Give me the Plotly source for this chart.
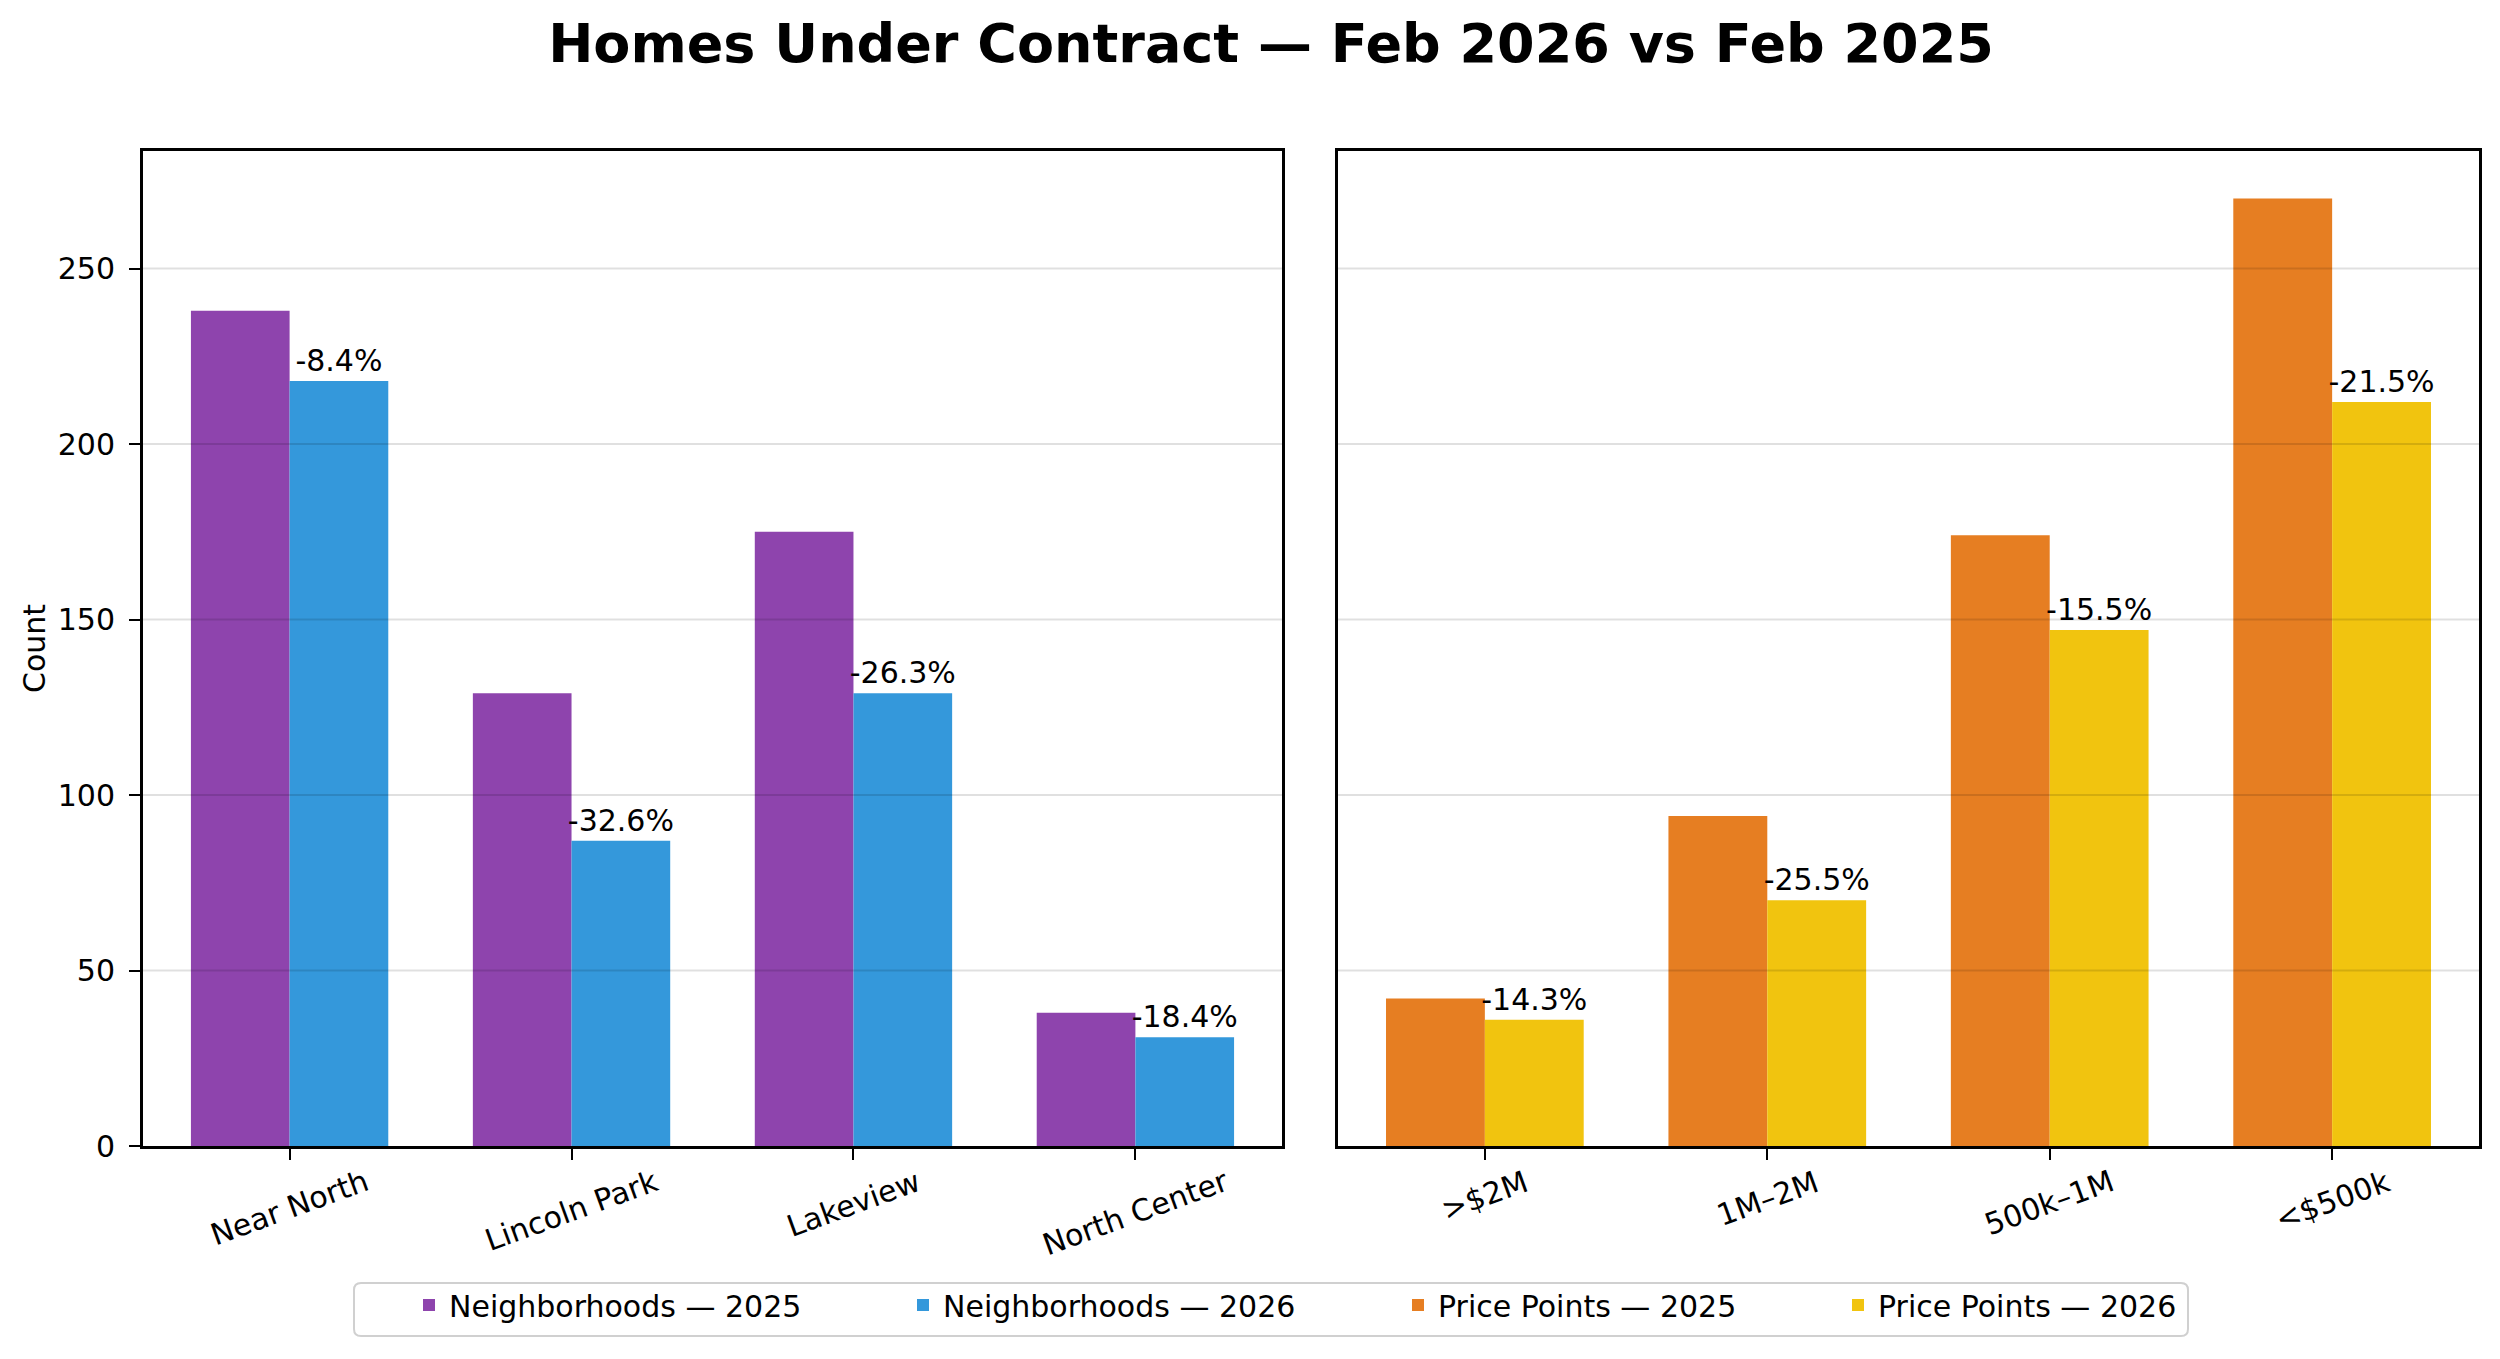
import plotly.graph_objects as go

# ---- data ----
neighborhoods = ["Near North", "Lincoln Park", "Lakeview", "North Center"]
nb_2025 = [238, 129, 175, 38]
nb_2026 = [218, 87, 129, 31]

price_points = [">$2M", "1M–2M", "500k–1M", "<$500k"]
pp_2025 = [42, 94, 174, 270]
pp_2026 = [36, 70, 147, 212]

y_ticks = [0, 50, 100, 150, 200, 250]

series_names = ["Neighborhoods — 2025", "Neighborhoods — 2026",
                "Price Points — 2025", "Price Points — 2026"]

COL_NB25 = "#8e44ad"
COL_NB26 = "#3498db"
COL_PP25 = "#e67e22"
COL_PP26 = "#f1c40f"

FONT = "DejaVu Sans"
FS = 30
W, H = 2500, 1359

# approximate DejaVu Sans advance widths (per 1000 em) for label sizing
_ADV = {" ": 318, "N": 748, "e": 615, "a": 613, "r": 411, "o": 612, "t": 392,
        "h": 634, "L": 557, "i": 278, "n": 634, "c": 550, "l": 278, "P": 603,
        "k": 579, "v": 592, "w": 818, "C": 698, ">": 838, "$": 636, "M": 863,
        "–": 500, "<": 838}


def text_width(s, size):
    return sum(_ADV.get(ch, 636) for ch in s) / 1000 * size


def pct_labels(old, new):
    return [f"{(n - o) / o * 100:.1f}%" for o, n in zip(old, new)]


fig = go.Figure()

text_style = dict(constraintext="none", cliponaxis=False,
                  textposition="outside",
                  outsidetextfont=dict(family=FONT, size=FS, color="black"))

fig.add_trace(go.Bar(x=neighborhoods, y=nb_2025, name=series_names[0],
                     marker_color=COL_NB25, xaxis="x", yaxis="y",
                     offsetgroup="a", marker_line_width=0, legend="legend"))
fig.add_trace(go.Bar(x=neighborhoods, y=nb_2026, name=series_names[1],
                     marker_color=COL_NB26, xaxis="x", yaxis="y",
                     offsetgroup="b", text=pct_labels(nb_2025, nb_2026),
                     marker_line_width=0, legend="legend2", **text_style))
fig.add_trace(go.Bar(x=price_points, y=pp_2025, name=series_names[2],
                     marker_color=COL_PP25, xaxis="x2", yaxis="y2",
                     offsetgroup="a", marker_line_width=0, legend="legend3"))
fig.add_trace(go.Bar(x=price_points, y=pp_2026, name=series_names[3],
                     marker_color=COL_PP26, xaxis="x2", yaxis="y2",
                     offsetgroup="b", text=pct_labels(pp_2025, pp_2026),
                     marker_line_width=0, legend="legend4", **text_style))

# domains (paper coords)
xd1 = [143 / W, 1282 / W]
xd2 = [1338 / W, 2479 / W]
yd = [(H - 1146) / H, (H - 151) / H]
yrange = [0, 283.5]

axis_common = dict(showline=True, linecolor="black", linewidth=3, mirror=True,
                   zeroline=False)
xaxis_common = dict(range=[-0.52, 3.52], ticks="outside", ticklen=11,
                    tickwidth=2, tickcolor="black", showticklabels=False,
                    showgrid=False, fixedrange=True, **axis_common)

# legend: one box, four entries laid out like the reference
leg_y = (H - 1305) / H
leg_text_left = [453, 947, 1442, 1882]
legend_layouts = {}
for i, tl in enumerate(leg_text_left):
    key = "legend" if i == 0 else f"legend{i + 1}"
    legend_layouts[key] = dict(
        orientation="h", x=(tl - 44) / W, xanchor="left",
        y=leg_y, yanchor="middle", bgcolor="rgba(0,0,0,0)", borderwidth=0,
        font=dict(family=FONT, size=FS, color="black"))

fig.update_layout(
    width=W, height=H,
    margin=dict(l=0, r=0, t=0, b=0, autoexpand=False),
    paper_bgcolor="white", plot_bgcolor="white",
    font=dict(family=FONT, size=FS, color="black"),
    barmode="group", bargap=0.3, bargroupgap=0,
    showlegend=True,
    title=dict(text="Homes Under Contract — Feb 2026 vs Feb 2025",
               x=0.5084, xanchor="center", y=1 - 43 / H, yanchor="middle",
               font=dict(family=FONT, size=54, color="black", weight="bold")),
    xaxis=dict(domain=xd1, anchor="y", **xaxis_common),
    xaxis2=dict(domain=xd2, anchor="y2", **xaxis_common),
    yaxis=dict(domain=yd, anchor="x", range=yrange, tickvals=y_ticks,
               ticks="outside", ticklen=11, tickwidth=2, tickcolor="black",
               ticklabelstandoff=8, showgrid=False, fixedrange=True,
               title=dict(text="Count", standoff=4,
                          font=dict(family=FONT, size=FS)),
               **axis_common),
    yaxis2=dict(domain=yd, anchor="x2", range=yrange, tickvals=y_ticks,
                ticks="", showticklabels=False, showgrid=False,
                fixedrange=True, **axis_common),
    **legend_layouts,
)

# legend frame (rounded rectangle)
lx0, lx1, ly0, ly1 = 354 / W, 2188 / W, (H - 1336) / H, (H - 1283) / H
rx, ry = 7 / W, 7 / H
frame = (f"M {lx0 + rx},{ly0} L {lx1 - rx},{ly0} Q {lx1},{ly0} {lx1},{ly0 + ry} "
         f"L {lx1},{ly1 - ry} Q {lx1},{ly1} {lx1 - rx},{ly1} "
         f"L {lx0 + rx},{ly1} Q {lx0},{ly1} {lx0},{ly1 - ry} "
         f"L {lx0},{ly0 + ry} Q {lx0},{ly0} {lx0 + rx},{ly0} Z")
fig.add_shape(type="path", xref="paper", yref="paper", path=frame,
              line=dict(color="#d0d0d0", width=2), fillcolor="white",
              layer="below")

# grid lines drawn above bars (as in reference)
for xr, yr in (("x domain", "y"), ("x2 domain", "y2")):
    for t in y_ticks[1:]:
        fig.add_shape(type="line", xref=xr, yref=yr, x0=0, x1=1, y0=t, y1=t,
                      line=dict(color="rgba(0,0,0,0.12)", width=2),
                      layer="above")

# rotated category labels: rotated bounding box centred on tick, top aligned
ANG = 20
SIN, COS = 0.342, 0.940
label_top_px = 1171
for cats, xr in ((neighborhoods, "x"), (price_points, "x2")):
    for c in cats:
        w = text_width(c, FS) * 0.94
        rot_h = w * SIN + 22 * COS
        cy = label_top_px + rot_h / 2
        fig.add_annotation(x=c, xref=xr, y=(H - cy) / H, yref="paper",
                           text=c, showarrow=False, textangle=-ANG,
                           xanchor="center", yanchor="middle",
                           font=dict(family=FONT, size=FS, color="black"))

fig.write_html(
    "out.html",
    config={"displayModeBar": False},
    post_script="document.body.style.margin='0';"
                "document.body.style.overflow='hidden';",
)
